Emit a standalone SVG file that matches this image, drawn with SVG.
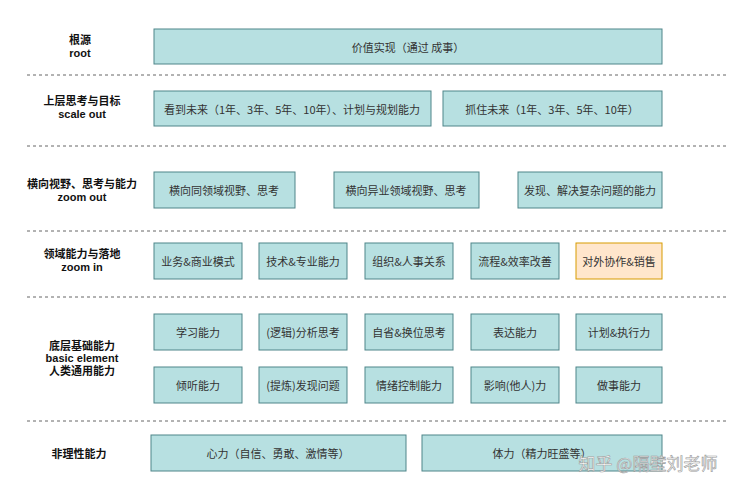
<svg xmlns="http://www.w3.org/2000/svg" width="754" height="500" viewBox="0 0 754 500">
<style>
.b{fill:#b7e0e1;stroke:#4f8589;stroke-width:1}
.o{fill:#ffe6cc;stroke:#d79b00;stroke-width:1}
.t{font-family:"Noto Sans CJK SC","Liberation Sans",sans-serif;font-size:11px;fill:#333;text-anchor:middle;dominant-baseline:central}
.l{font-family:"Liberation Sans","Noto Sans CJK SC",sans-serif;font-size:11px;font-weight:bold;fill:#111;text-anchor:middle}
.d{stroke:#666;stroke-width:1;stroke-dasharray:3 3}
</style>
<rect width="754" height="500" fill="#fff"/>
<g id="separators">
<line class="d" x1="27" y1="75" x2="727" y2="75"/>
<line class="d" x1="27" y1="146" x2="727" y2="146"/>
<line class="d" x1="27" y1="231" x2="727" y2="231"/>
<line class="d" x1="27" y1="297" x2="727" y2="297"/>
<line class="d" x1="27" y1="421" x2="727" y2="421"/>
</g>
<g id="labels">
<text class="l" x="80" y="44">根源</text><text class="l" x="80" y="57">root</text>
<text class="l" x="82" y="105">上层思考与目标</text><text class="l" x="82" y="118">scale out</text>
<text class="l" x="82" y="188">横向视野、思考与能力</text><text class="l" x="82" y="201">zoom out</text>
<text class="l" x="82" y="258">领域能力与落地</text><text class="l" x="82" y="271">zoom in</text>
<text class="l" x="82" y="350">底层基础能力</text><text class="l" x="82" y="362">basic element</text><text class="l" x="82" y="375">人类通用能力</text>
<text class="l" x="79" y="458">非理性能力</text>
</g>
<g id="root"><rect class="b" x="154" y="29" width="508" height="35"/><text class="t" x="408" y="46.5">价值实现（通过 成事）</text></g>
<g id="n21"><rect class="b" x="154" y="91" width="277" height="35"/><text class="t" x="292" y="108.5">看到未来（1年、3年、5年、10年）、计划与规划能力</text></g>
<g id="n22"><rect class="b" x="443" y="91" width="219" height="35"/><text class="t" x="552" y="108.5">抓住未来（1年、3年、5年、10年）</text></g>
<g id="n31"><rect class="b" x="154" y="172" width="141" height="36"/><text class="t" x="224" y="190">横向同领域视野、思考</text></g>
<g id="n32"><rect class="b" x="334" y="172" width="145" height="36"/><text class="t" x="406" y="190">横向异业领域视野、思考</text></g>
<g id="n33"><rect class="b" x="518" y="172" width="144" height="36"/><text class="t" x="590" y="190">发现、解决复杂问题的能力</text></g>
<g id="n41"><rect class="b" x="154" y="243" width="88" height="36"/><text class="t" x="198" y="261">业务&amp;商业模式</text></g>
<g id="n42"><rect class="b" x="259" y="243" width="88" height="36"/><text class="t" x="303" y="261">技术&amp;专业能力</text></g>
<g id="n43"><rect class="b" x="365" y="243" width="88" height="36"/><text class="t" x="409" y="261">组织&amp;人事关系</text></g>
<g id="n44"><rect class="b" x="471" y="243" width="88" height="36"/><text class="t" x="515" y="261">流程&amp;效率改善</text></g>
<g id="n45"><rect class="o" x="576" y="243" width="86" height="36"/><text class="t" x="619" y="261">对外协作&amp;销售</text></g>
<g id="n51"><rect class="b" x="154" y="314" width="88" height="36"/><text class="t" x="198" y="332">学习能力</text></g>
<g id="n52"><rect class="b" x="259" y="314" width="88" height="36"/><text class="t" x="303" y="332">(逻辑)分析思考</text></g>
<g id="n53"><rect class="b" x="365" y="314" width="88" height="36"/><text class="t" x="409" y="332">自省&amp;换位思考</text></g>
<g id="n54"><rect class="b" x="471" y="314" width="88" height="36"/><text class="t" x="515" y="332">表达能力</text></g>
<g id="n55"><rect class="b" x="576" y="314" width="86" height="36"/><text class="t" x="619" y="332">计划&amp;执行力</text></g>
<g id="n61"><rect class="b" x="154" y="367" width="88" height="36"/><text class="t" x="198" y="385">倾听能力</text></g>
<g id="n62"><rect class="b" x="259" y="367" width="88" height="36"/><text class="t" x="303" y="385">(提炼)发现问题</text></g>
<g id="n63"><rect class="b" x="365" y="367" width="88" height="36"/><text class="t" x="409" y="385">情绪控制能力</text></g>
<g id="n64"><rect class="b" x="471" y="367" width="88" height="36"/><text class="t" x="515" y="385">影响(他人)力</text></g>
<g id="n65"><rect class="b" x="576" y="367" width="86" height="36"/><text class="t" x="619" y="385">做事能力</text></g>
<g id="n71"><rect class="b" x="151" y="435" width="255" height="36"/><text class="t" x="278" y="453">心力（自信、勇敢、激情等）</text></g>
<g id="n72"><rect class="b" x="422" y="435" width="240" height="36"/><text class="t" x="542" y="453">体力（精力旺盛等）</text></g>
<text x="648" y="470" font-family="Noto Sans CJK SC,sans-serif" font-size="17" fill="#ffffff" stroke="#999" stroke-width="0.6" text-anchor="middle">知乎 @隔壁刘老师</text>
</svg>
